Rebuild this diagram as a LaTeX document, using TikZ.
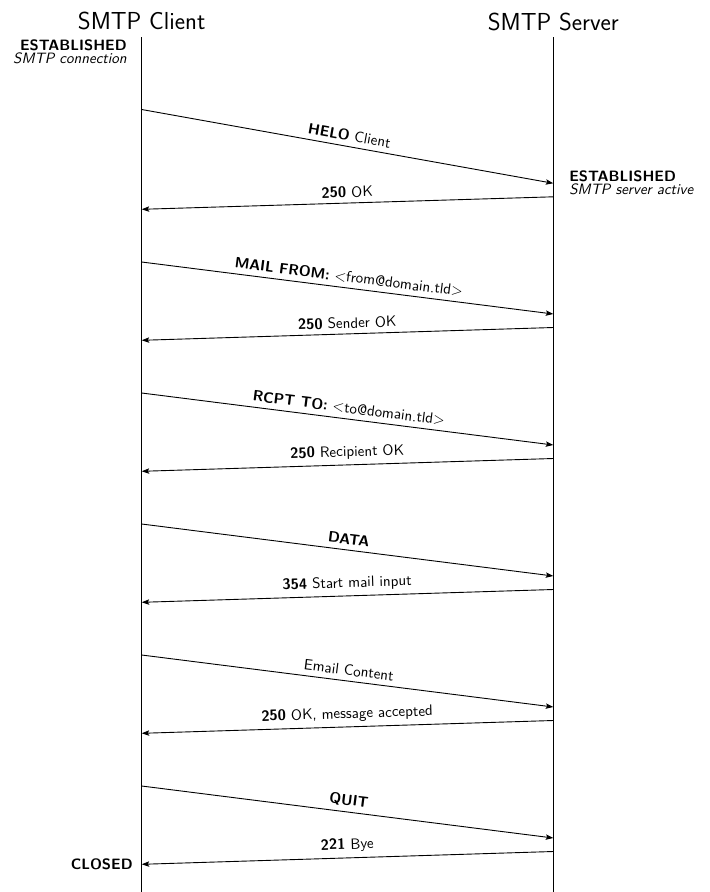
\documentclass[tikz,border=0pt]{standalone}
\usepackage{fontspec}
\usetikzlibrary{arrows.meta}
\begin{document}
\begin{tikzpicture}[x=0.6667pt,y=-0.6667pt,
  every node/.style={font=\sffamily\fontsize{10}{12}\selectfont},
  head/.style={font=\sffamily\fontsize{16.4}{20}\selectfont, anchor=base, inner sep=0pt},
  life/.style={line width=0.6pt},
  msg/.style={line width=0.6pt, -{Stealth[length=5pt,width=3.6pt,inset=1pt]}},
  lab/.style={midway, above, sloped},
  statelab/.style={font=\sffamily\fontsize{10}{7.3}\selectfont, inner sep=0pt}]
\useasboundingbox (0,0) rectangle (710,892);

% headings
\node[head] (ch) at (141.7,29) {SMTP Client};
\node[head] (sh) at (553.3,30) {SMTP Server};

% lifelines
\coordinate (ctop) at (141.7,37);
\coordinate (cbot) at (141.7,892);
\coordinate (stop) at (553.3,37);
\coordinate (sbot) at (553.3,892);
\draw[life] (ctop) -- (cbot);
\draw[life] (stop) -- (sbot);

% states
\node[statelab, anchor=base east, align=right] (est1) at (127,63)
  {\textbf{ESTABLISHED}\\\textit{SMTP connection}};
\node[statelab, anchor=base west, align=left] (est2) at (569,194)
  {\textbf{ESTABLISHED}\\\textit{SMTP server active}};

% message points
\coordinate (c1) at (141.7,109.5); \coordinate (s1) at (553.3,183.3);
\coordinate (s2) at (553.3,196.8); \coordinate (c2) at (141.7,209.3);
\coordinate (c3) at (141.7,262);   \coordinate (s3) at (553.3,314);
\coordinate (s4) at (553.3,327.5); \coordinate (c4) at (141.7,340.3);
\coordinate (c5) at (141.7,393);   \coordinate (s5) at (553.3,445);
\coordinate (s6) at (553.3,458.5); \coordinate (c6) at (141.7,471.3);
\coordinate (c7) at (141.7,524);   \coordinate (s7) at (553.3,576);
\coordinate (s8) at (553.3,589.5); \coordinate (c8) at (141.7,602.3);
\coordinate (c9) at (141.7,655);   \coordinate (s9) at (553.3,707);
\coordinate (s10) at (553.3,720.5); \coordinate (c10) at (141.7,733.3);
\coordinate (c11) at (141.7,786);  \coordinate (s11) at (553.3,838);
\coordinate (s12) at (553.3,851.5); \coordinate (c12) at (141.7,864.3);

\draw[msg] (c1) -- node[lab] (l1) {\textbf{HELO} Client} (s1);
\draw[msg] (s2) -- node[lab] (l2) {\textbf{250} OK} (c2);
\draw[msg] (c3) -- node[lab] (l3) {\textbf{MAIL FROM:} $<$from@domain.tld$>$} (s3);
\draw[msg] (s4) -- node[lab] (l4) {\textbf{250} Sender OK} (c4);
\draw[msg] (c5) -- node[lab] (l5) {\textbf{RCPT TO:} $<$to@domain.tld$>$} (s5);
\draw[msg] (s6) -- node[lab] (l6) {\textbf{250} Recipient OK} (c6);
\draw[msg] (c7) -- node[lab] (l7) {\textbf{DATA}} (s7);
\draw[msg] (s8) -- node[lab] (l8) {\textbf{354} Start mail input} (c8);
\draw[msg] (c9) -- node[lab] (l9) {Email Content} (s9);
\draw[msg] (s10) -- node[lab] (l10) {\textbf{250} OK, message accepted} (c10);
\draw[msg] (c11) -- node[lab] (l11) {\textbf{QUIT}} (s11);
\draw[msg] (s12) -- node[lab] (l12) {\textbf{221} Bye} (c12);

\node[statelab, anchor=base east, font=\sffamily\bfseries\fontsize{10}{12}\selectfont] (closed) at (133,869) {CLOSED};
\end{tikzpicture}
\end{document}
